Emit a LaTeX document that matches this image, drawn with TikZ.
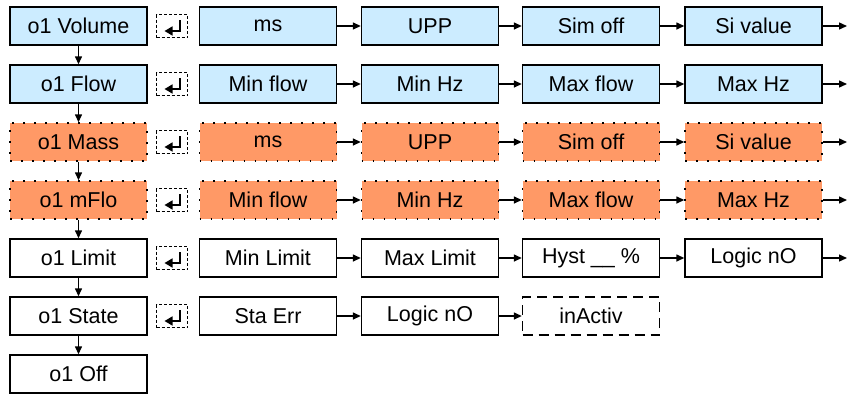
\documentclass[tikz,border=0pt]{standalone}
\usepackage{fontspec}
\setmainfont{Liberation Sans}
\usetikzlibrary{arrows.meta}
\definecolor{lblue}{HTML}{CCECFF}
\definecolor{orng}{HTML}{FF9966}
\tikzset{
  box/.style={draw, line width=1.4pt, minimum width=137pt, minimum height=38pt, inner sep=0pt, font=\fontsize{21.5}{25}\selectfont},
  bluebox/.style={box, fill=lblue},
  orbox/.style={box, fill=orng, dash pattern=on 1.6pt off 9.4pt},
  whitebox/.style={box, fill=white},
  inactbox/.style={box, dash pattern=on 10pt off 6pt},
  entericon/.style={draw, line width=1.4pt, dash pattern=on 3pt off 2pt, minimum width=31pt, minimum height=23pt, inner sep=0pt,
    path picture={\draw[solid, line width=1.5pt, -{Triangle[length=8pt,width=9pt]}]
      ([xshift=8pt,yshift=6pt]path picture bounding box.center) -- ++(0pt,-11pt) -- ++(-15.5pt,0pt);}},
  arr/.style={-{Triangle[length=8pt,width=7pt]}, line width=1.4pt}
}
\begin{document}
\begin{tikzpicture}[x=1pt,y=-1pt]
\useasboundingbox (0,0) rectangle (856,394);
% left column
\node[bluebox] (r1) at (78.5,26) {o1 Volume};
\node[bluebox] (r2) at (78.5,84) {o1 Flow};
\node[orbox] (r3) at (78.5,142) {o1 Mass};
\node[orbox] (r4) at (78.5,200) {o1 mFlo};
\node[whitebox] (r5) at (78.5,258) {o1 Limit};
\node[whitebox] (r6) at (78.5,316) {o1 State};
\node[whitebox] (r7) at (78.5,374) {o1 Off};
\foreach \a/\b in {r1/r2,r2/r3,r3/r4,r4/r5,r5/r6,r6/r7}
  \draw[arr] (\a.south) -- (\b.north);
% enter icons
\foreach \i/\y in {1/26,2/84,3/142,4/200,5/258,6/316}
  \node[entericon] (i\i) at (172,\y) {};
% row 1
\node[bluebox] (c11) at (268,26) {ms};
\node[bluebox] (c12) at (430,26) {UPP};
\node[bluebox] (c13) at (591,26) {Sim off};
\node[bluebox] (c14) at (753.5,26) {Si value};
% row 2
\node[bluebox] (c21) at (268,84) {Min flow};
\node[bluebox] (c22) at (430,84) {Min Hz};
\node[bluebox] (c23) at (591,84) {Max flow};
\node[bluebox] (c24) at (753.5,84) {Max Hz};
% row 3
\node[orbox] (c31) at (268,142) {ms};
\node[orbox] (c32) at (430,142) {UPP};
\node[orbox] (c33) at (591,142) {Sim off};
\node[orbox] (c34) at (753.5,142) {Si value};
% row 4
\node[orbox] (c41) at (268,200) {Min flow};
\node[orbox] (c42) at (430,200) {Min Hz};
\node[orbox] (c43) at (591,200) {Max flow};
\node[orbox] (c44) at (753.5,200) {Max Hz};
% row 5
\node[whitebox] (c51) at (268,258) {Min Limit};
\node[whitebox] (c52) at (430,258) {Max Limit};
\node[whitebox] (c53) at (591,258) {Hyst \_\_ \%};
\node[whitebox] (c54) at (753.5,258) {Logic nO};
% row 6
\node[whitebox] (c61) at (268,316) {Sta Err};
\node[whitebox] (c62) at (430,316) {Logic nO};
\node[inactbox] (c63) at (591,316) {inActiv};
% horizontal arrows
\foreach \r/\y in {1/26,2/84,3/142,4/200,5/258}{
  \coordinate (e\r) at (847,\y);
  \draw[arr] (c\r1.east) -- (c\r2.west);
  \draw[arr] (c\r2.east) -- (c\r3.west);
  \draw[arr] (c\r3.east) -- (c\r4.west);
  \draw[arr] (c\r4.east) -- (e\r);
}
\draw[arr] (c61.east) -- (c62.west);
\draw[arr] (c62.east) -- (c63.west);
\end{tikzpicture}
\end{document}
